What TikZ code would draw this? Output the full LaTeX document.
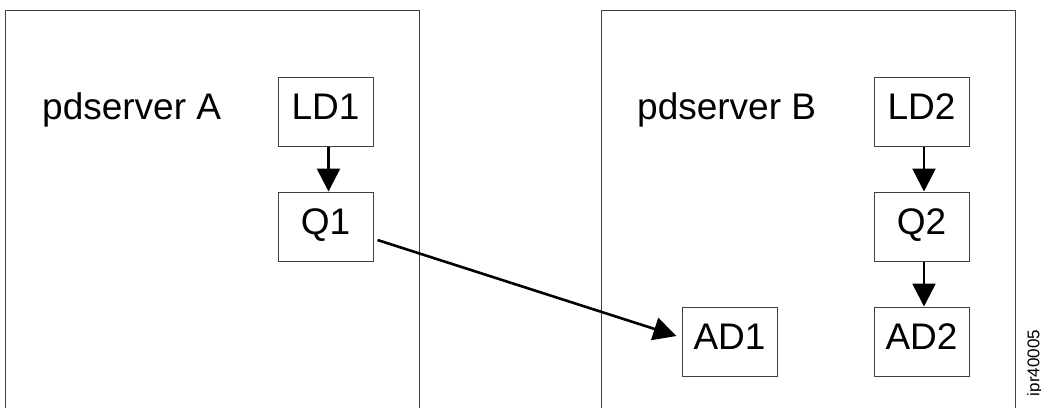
\documentclass[tikz,border=0pt]{standalone}
\usepackage{fontspec}
\setmainfont{Liberation Sans}
\usetikzlibrary{arrows.meta,calc}
\begin{document}
\begin{tikzpicture}[x=1pt,y=-1pt,
  frame/.style={draw=black!75, line width=1pt},
  unit/.style={draw=black!75, line width=1pt, minimum width=95pt, minimum height=69pt, inner sep=0pt, text height=26.5pt, text depth=10pt, font=\fontsize{37pt}{40pt}\selectfont},
  title/.style={anchor=base west, inner sep=0pt, font=\fontsize{37pt}{40pt}\selectfont},
  flow/.style={line width=2.6pt, -{Triangle[length=23pt,width=23pt]}}]
\useasboundingbox (0,0) rectangle (1041,408);
% server frames (open at bottom)
\draw[frame] (5,408) -- (5,10) -- (419,10) -- (419,408);
\draw[frame] (601,408) -- (601,10) -- (1015,10) -- (1015,408);
% titles
\node[title] (tA) at (42,119) {pdserver A};
\node[title] (tB) at (637,119) {pdserver B};
% units
\node[unit] (LD1) at (325.5,111.5) {LD1};
\node[unit] (Q1)  at (325.5,226.5) {Q1};
\node[unit] (LD2) at (921.5,111.5) {LD2};
\node[unit] (Q2)  at (921.5,226.5) {Q2};
\node[unit] (AD2) at (921.5,341.5) {AD2};
\node[unit] (AD1) at (729.5,341.5) {AD1};
% connectors
\draw[flow] ($(LD1.south)+(3,0)$) -- ($(Q1.north)+(3,0)$);
\draw[flow] ($(LD2.south)+(2.5,0)$) -- ($(Q2.north)+(2.5,0)$);
\draw[flow] ($(Q2.south)+(2.5,0)$) -- ($(AD2.north)+(2.5,0)$);
\draw[flow] ($(Q1.east)+(4,13.5)$) -- ($(AD1.west)+(-5,-5.5)$);
% figure id
\node[rotate=90, inner sep=0pt, font=\fontsize{17pt}{20pt}\selectfont] (id) at (1035,363) {ipr40005};
\end{tikzpicture}
\end{document}
